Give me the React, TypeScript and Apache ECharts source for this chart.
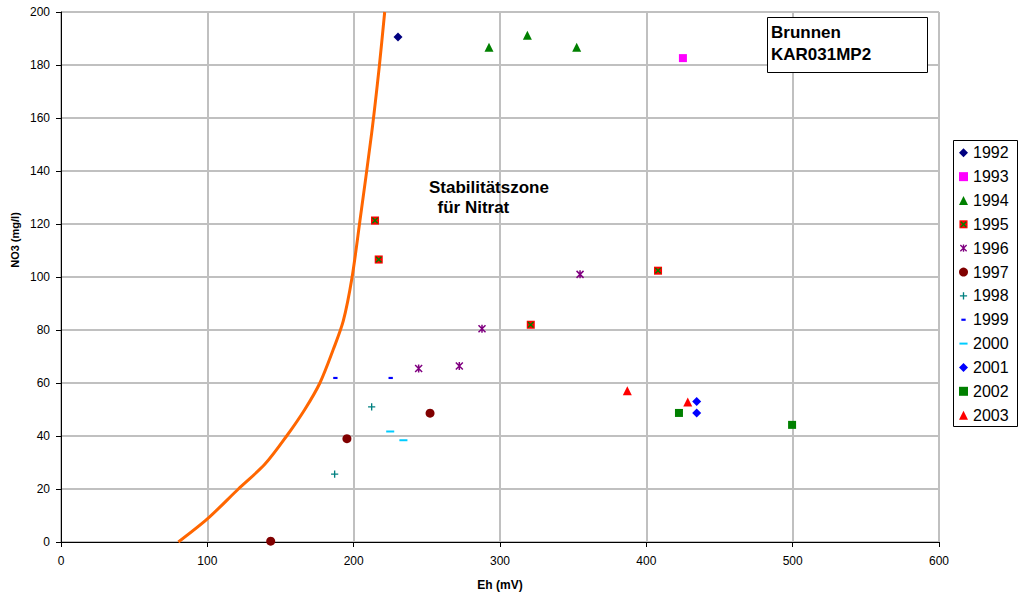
import React, { useEffect, useRef } from "react";
import * as echarts from "echarts";

const years = ["1992", "1993", "1994", "1995", "1996", "1997", "1998", "1999", "2000", "2001", "2002", "2003"];

const d1992 = [[230.3, 190.6]];
const d1993 = [[425, 182.6]];
const d1994 = [[292.5, 186.7], [318.7, 191.2], [352.4, 186.7]];
const d1995 = [[214.6, 121.3], [217.1, 106.6], [321, 82], [408, 102.4]];
const d1996 = [[354.7, 101], [287.7, 80.5], [272.2, 66.4], [244.4, 65.5]];
const d1997 = [[143.3, 0.3], [195.4, 39], [252.2, 48.6]];
const d1998 = [[187, 25.6], [212.3, 51]];
const d1999 = [[187.5, 61.9], [225.3, 61.9]];
const d2000 = [[225, 41.7], [234, 38.4]];
const d2001 = [[434.4, 53], [434.4, 48.7]];
const d2002 = [[422.3, 48.7], [499.6, 44.2]];
const d2003 = [[387, 57.1], [428.3, 52.8]];

const stabilityCurve = [
  [80.2, 0], [100, 8.7], [121.2, 20], [139.4, 29.4], [154.2, 40], [166.7, 50.1],
  [177, 60.1], [186.1, 72.7], [192.9, 83.4], [198.8, 99.5], [204.3, 121.3],
  [212.3, 154.3], [217.5, 179.4], [221.2, 200],
];

const FONT = "Liberation Sans, Arial, Helvetica, sans-serif";

const svgSym = (inner: string) =>
  "image://data:image/svg+xml;utf8," +
  encodeURIComponent(
    `<svg xmlns="http://www.w3.org/2000/svg" width="10" height="10" viewBox="0 0 10 10">${inner}</svg>`
  );

const sym1995 = svgSym(
  `<rect x="0.5" y="0.5" width="9" height="9" fill="#ff0000"/><path d="M2,2L8,8M8,2L2,8" stroke="#008000" stroke-width="1.6" fill="none"/>`
);
const sym1996 = svgSym(
  `<path d="M1.5,1.5L8.5,8.5M8.5,1.5L1.5,8.5M5,1V9" stroke="#800080" stroke-width="1.5" fill="none"/>`
);
const sym1998 = svgSym(`<path d="M5,1V9M1,5H9" stroke="#008080" stroke-width="1.5" fill="none"/>`);
const sym1999 = svgSym(`<rect x="2.6" y="3.8" width="4.8" height="2.4" fill="#0000ff"/>`);
const sym2000 = svgSym(`<rect x="0.5" y="3.9" width="9" height="2.2" fill="#00ccff"/>`);

export default function App() {
  const ref = useRef<HTMLDivElement>(null);
  useEffect(() => {
    const chart = echarts.init(ref.current!, null, { renderer: "svg" });
    const sc = (name: string, data: number[][], symbol: string, size: number, color: string) => ({
      type: "scatter",
      name,
      data,
      symbol,
      symbolSize: size,
      itemStyle: { color, opacity: 1 },
      z: 5,
    });
    const txt = (text: string, x: number, y: number, size: number) => ({
      type: "text",
      z: 10,
      x,
      y,
      style: {
        text,
        fontSize: size,
        fontWeight: "bold",
        fontFamily: FONT,
        fill: "#000",
        align: "left",
        verticalAlign: "middle",
      },
    });
    chart.setOption({
      animation: false,
      textStyle: { fontFamily: FONT },
      grid: { left: 61, top: 12, right: 83, bottom: 53, containLabel: false },
      xAxis: {
        type: "value",
        min: 0,
        max: 600,
        interval: 100,
        name: "Eh (mV)",
        nameLocation: "middle",
        nameGap: 37,
        nameTextStyle: { fontWeight: "bold", fontSize: 12, color: "#000", fontFamily: FONT },
        axisLine: { show: true, onZero: false, lineStyle: { color: "#000", width: 1 } },
        axisTick: { show: true, inside: false, length: 5, lineStyle: { color: "#000" } },
        axisLabel: { color: "#000", fontSize: 12, margin: 13, fontFamily: FONT },
        splitLine: { show: true, lineStyle: { color: "#c0c0c0", width: 2 } },
      },
      yAxis: {
        type: "value",
        min: 0,
        max: 200,
        interval: 20,
        axisLine: { show: true, onZero: false, lineStyle: { color: "#000", width: 1 } },
        axisTick: { show: true, inside: false, length: 5, lineStyle: { color: "#000" } },
        axisLabel: { color: "#000", fontSize: 12, margin: 11, fontFamily: FONT },
        splitLine: { show: true, lineStyle: { color: "#c0c0c0", width: 2 } },
      },
      legend: {
        data: years,
        orient: "vertical",
        left: 959,
        top: 144.8,
        padding: 0,
        itemWidth: 9,
        itemHeight: 9,
        itemGap: 7.85,
        selectedMode: false,
        textStyle: { fontSize: 16, lineHeight: 16, color: "#000", fontFamily: FONT },
      },
      graphic: [
        {
          type: "rect",
          z: 1,
          shape: { x: 953.5, y: 140.5, width: 64, height: 286 },
          style: { fill: "none", stroke: "#000", lineWidth: 1 },
        },
        {
          type: "rect",
          z: 9,
          shape: { x: 767.5, y: 17.5, width: 160, height: 55 },
          style: { fill: "#fff", stroke: "#000", lineWidth: 1 },
        },
        txt("Brunnen", 771, 32, 17),
        txt("KAR031MP2", 771, 54, 17),
        txt("Stabilitätszone", 429, 187, 17),
        txt("für Nitrat", 437.5, 207.5, 17),
        {
          type: "text",
          z: 10,
          x: 15,
          y: 240,
          rotation: Math.PI / 2,
          style: {
            text: "NO3 (mg/l)",
            fontSize: 11,
            fontWeight: "bold",
            fontFamily: FONT,
            fill: "#000",
            align: "center",
            verticalAlign: "middle",
          },
        },
      ],
      series: [
        {
          type: "line",
          name: "Stabilitätsgrenze",
          data: stabilityCurve,
          showSymbol: false,
          symbol: "none",
          smooth: 0.3,
          lineStyle: { color: "#ff6600", width: 3 },
          z: 3,
          clip: true,
        },
        sc("1992", d1992, "diamond", 9, "#000080"),
        sc("1993", d1993, "rect", 8, "#ff00ff"),
        sc("1994", d1994, "triangle", 9, "#008000"),
        sc("1995", d1995, sym1995, 9, "#ff0000"),
        sc("1996", d1996, sym1996, 10, "#800080"),
        sc("1997", d1997, "circle", 9, "#800000"),
        sc("1998", d1998, sym1998, 9, "#008080"),
        sc("1999", d1999, sym1999, 9, "#0000ff"),
        sc("2000", d2000, sym2000, 9, "#00ccff"),
        sc("2001", d2001, "diamond", 9, "#0000ff"),
        sc("2002", d2002, "rect", 8, "#008000"),
        sc("2003", d2003, "triangle", 9, "#ff0000"),
      ],
    });
    return () => chart.dispose();
  }, []);
  return (
    <div
      ref={ref}
      style={{ position: "fixed", left: 0, top: 0, width: 1022, height: 596, background: "#fff" }}
    />
  );
}
